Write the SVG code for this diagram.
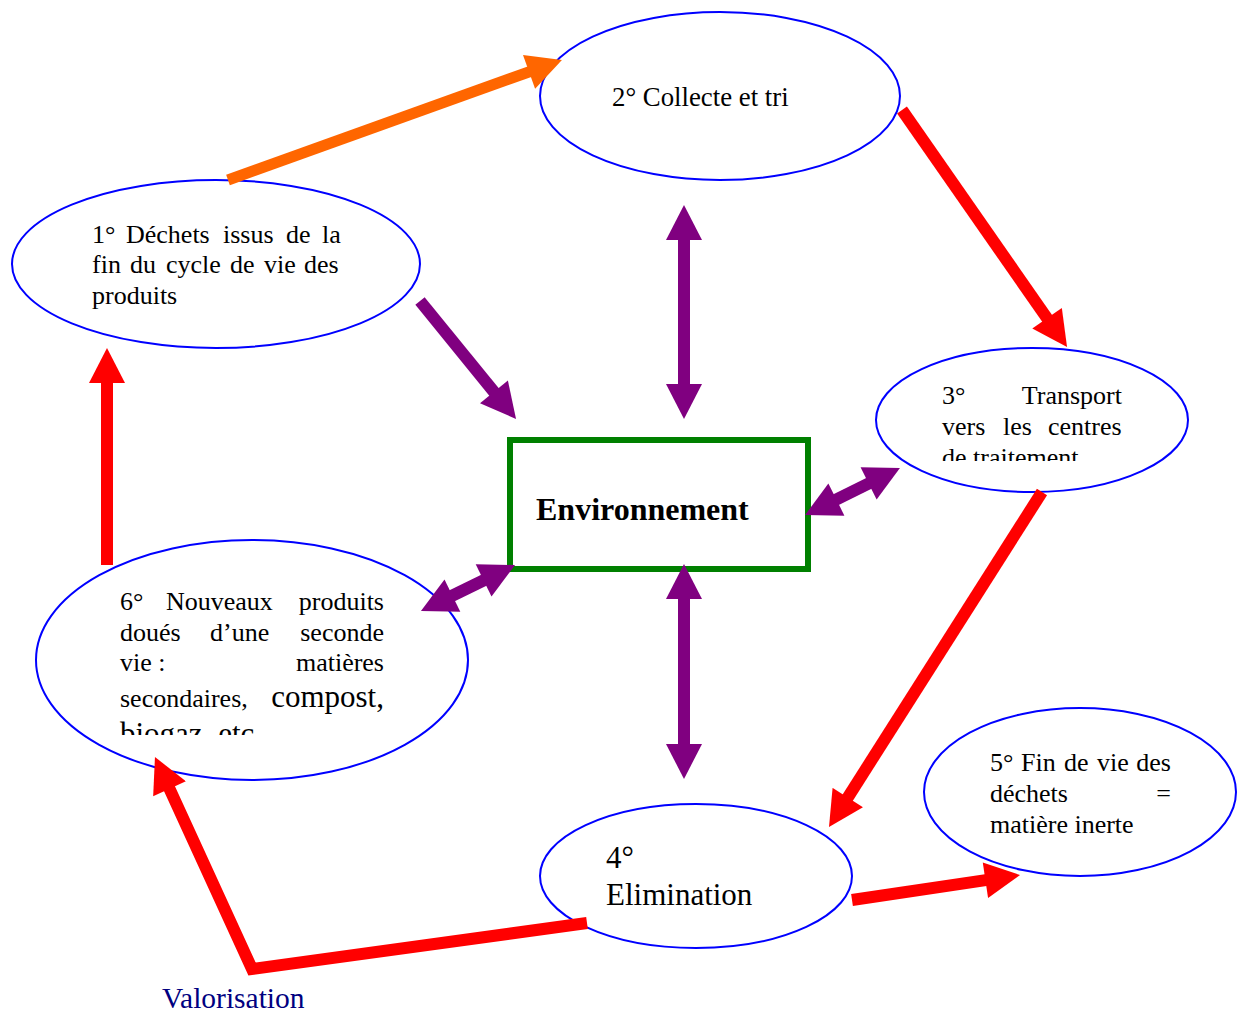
<svg xmlns="http://www.w3.org/2000/svg" width="1244" height="1012" viewBox="0 0 1244 1012">
<style>
.node{fill:#fff;stroke:#0000ff;stroke-width:2}
.t{font-family:"Liberation Serif","Times New Roman",serif;font-size:26px;fill:#000}
.big{font-size:31px}
.red{stroke:#ff0000;stroke-width:12;fill:none}
.org{stroke:#ff6600;stroke-width:11;fill:none}
.pur{stroke:#800080;stroke-width:12;fill:none}
</style>
<defs>
<marker id="hr" markerUnits="userSpaceOnUse" markerWidth="36" markerHeight="36" viewBox="0 0 35 36" refX="2" refY="18" orient="auto-start-reverse"><path d="M0,0 L35,18 L0,36 z" fill="#ff0000"/></marker>
<marker id="ho" markerUnits="userSpaceOnUse" markerWidth="36" markerHeight="36" viewBox="0 0 35 36" refX="2" refY="18" orient="auto-start-reverse"><path d="M0,0 L35,18 L0,36 z" fill="#ff6600"/></marker>
<marker id="hp" markerUnits="userSpaceOnUse" markerWidth="36" markerHeight="36" viewBox="0 0 35 36" refX="2" refY="18" orient="auto-start-reverse"><path d="M0,0 L35,18 L0,36 z" fill="#800080"/></marker>
<clipPath id="c3"><rect x="870" y="340" width="330" height="121"/></clipPath>
<clipPath id="c6"><rect x="30" y="540" width="440" height="195"/></clipPath>
</defs>

<g id="n1">
<ellipse class="node" cx="216" cy="264" rx="204" ry="84"/>
<text class="t" y="243"><tspan x="92">1°</tspan><tspan x="126">Déchets</tspan><tspan x="223">issus</tspan><tspan x="286">de</tspan><tspan x="322">la</tspan></text>
<text class="t" y="273"><tspan x="92">fin</tspan><tspan x="130">du</tspan><tspan x="166">cycle</tspan><tspan x="230">de</tspan><tspan x="264">vie</tspan><tspan x="304">des</tspan></text>
<text class="t" x="92" y="304">produits</text>
</g>

<g id="n2">
<ellipse class="node" cx="720" cy="96" rx="180" ry="84"/>
<text class="t" x="612" y="106" style="font-size:26.8px">2° Collecte et tri</text>
</g>

<g id="n3">
<ellipse class="node" cx="1032" cy="420" rx="156" ry="72"/>
<g clip-path="url(#c3)">
<text class="t" y="404"><tspan x="942">3°</tspan><tspan x="1122" text-anchor="end">Transport</tspan></text>
<text class="t" y="435"><tspan x="942">vers</tspan><tspan x="1003">les</tspan><tspan x="1048">centres</tspan></text>
<text class="t" x="942" y="466">de traitement</text>
</g>
</g>

<g id="n4">
<ellipse class="node" cx="696" cy="876" rx="156" ry="72"/>
<text class="t big" x="606" y="868">4°</text>
<text class="t big" x="606" y="905">Elimination</text>
</g>

<g id="n5">
<ellipse class="node" cx="1080" cy="792" rx="156" ry="84"/>
<text class="t" y="771"><tspan x="990">5°</tspan><tspan x="1021">Fin</tspan><tspan x="1064">de</tspan><tspan x="1097">vie</tspan><tspan x="1171" text-anchor="end">des</tspan></text>
<text class="t" y="802"><tspan x="990">déchets</tspan><tspan x="1171" text-anchor="end">=</tspan></text>
<text class="t" x="990" y="833">matière inerte</text>
</g>

<g id="n6">
<ellipse class="node" cx="252" cy="660" rx="216" ry="120"/>
<g clip-path="url(#c6)">
<text class="t" y="610"><tspan x="120">6°</tspan><tspan x="166">Nouveaux</tspan><tspan x="384" text-anchor="end">produits</tspan></text>
<text class="t" y="641"><tspan x="120">doués</tspan><tspan x="210">d’une</tspan><tspan x="384" text-anchor="end">seconde</tspan></text>
<text class="t" y="671"><tspan x="120">vie :</tspan><tspan x="384" text-anchor="end">matières</tspan></text>
<text class="t" y="707"><tspan x="120">secondaires,</tspan><tspan class="big" x="384" text-anchor="end">compost,</tspan></text>
<text class="t big" x="120" y="744">biogaz, etc.</text>
</g>
</g>

<g id="env">
<rect x="510" y="440" width="298" height="129" fill="#fff" stroke="#008000" stroke-width="6"/>
<text x="536" y="520" font-family="'Liberation Serif','Times New Roman',serif" font-size="32" font-weight="bold" fill="#000">Environnement</text>
</g>

<g id="valorisation">
<text x="162" y="1008" font-family="'Liberation Serif','Times New Roman',serif" font-size="29.5" fill="#000080">Valorisation</text>
</g>

<g id="connectors">
<line class="org" x1="228" y1="180" x2="530.9" y2="71.2" marker-end="url(#ho)"/>
<line class="red" x1="902" y1="110" x2="1048.2" y2="319.9" marker-end="url(#hr)"/>
<line class="red" x1="1042" y1="492" x2="846.7" y2="799.2" marker-end="url(#hr)"/>
<line class="red" x1="852" y1="900" x2="987.4" y2="879.9" marker-end="url(#hr)"/>
<polyline class="red" points="587,923 252,969 168.7,787" marker-end="url(#hr)"/>
<line class="red" x1="107" y1="565" x2="107" y2="381" marker-end="url(#hr)"/>
<line class="pur" x1="420" y1="301" x2="495.2" y2="393.4" marker-end="url(#hp)"/>
<line class="pur" x1="684" y1="238" x2="684" y2="386" marker-start="url(#hp)" marker-end="url(#hp)"/>
<line class="pur" x1="684" y1="597" x2="684" y2="746" marker-start="url(#hp)" marker-end="url(#hp)"/>
<line class="pur" x1="834.6" y1="500.4" x2="870.4" y2="482.6" marker-start="url(#hp)" marker-end="url(#hp)"/>
<line class="pur" x1="450.6" y1="596.5" x2="485.4" y2="579.5" marker-start="url(#hp)" marker-end="url(#hp)"/>
</g>
</svg>
